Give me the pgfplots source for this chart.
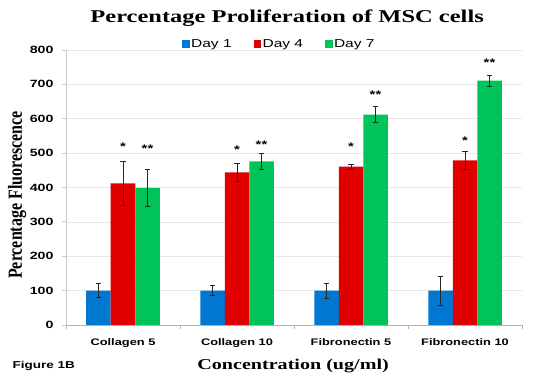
\documentclass[border=0pt]{standalone}
\usepackage{pgfplots}
\pgfplotsset{compat=1.18}
\usepackage{pgfplotstable}
\usepackage{fontspec}
\setmainfont{Liberation Sans}
\newfontfamily\sansw[FakeStretch=1.35]{Liberation Sans}
\newfontfamily\serifw[FakeStretch=1.36]{Liberation Serif}
\newfontfamily\serifx[FakeStretch=1.34]{Liberation Serif}
\definecolor{cblue}{RGB}{0,120,210}
\definecolor{cred}{RGB}{224,0,0}
\definecolor{cgreen}{RGB}{0,195,90}

\pgfplotstableread{
x y err
0 100 20
1 100 14
2 100 22
3 100 42
}\dayone
\pgfplotstableread{
x y err
0 412 63
1 444 27
2 461 7
3 479 26
}\dayfour
\pgfplotstableread{
x y err
0 399 53
1 476 23
2 612 24
3 711 16
}\dayseven
\pgfplotstableread{
x y lab
0 518 *
1 511 *
2 520 *
3 536 *
}\starsred
\pgfplotstableread{
x y lab
0.215 514 **
1.215 523 **
2.215 670 **
3.215 762 **
}\starsgreen

\begin{document}
\begin{tikzpicture}
\path[use as bounding box] (-66pt,-52pt) rectangle (475pt,325pt);
\begin{axis}[
  scale only axis, width=456pt, height=275pt,
  clip=false,
  xmin=-0.5, xmax=3.5, ymin=0, ymax=800,
  ytick={0,100,...,800},
  xtick={0,1,2,3},
  xticklabels={Collagen 5, Collagen 10, Fibronectin 5, Fibronectin 10},
  minor xtick={-0.5,0.5,1.5,2.5,3.5},
  major x tick style={draw=none},
  minor x tick style={gray!60, line width=0.8pt},
  minor tick length=4pt,
  major tick length=4pt,
  y tick style={gray!40, line width=0.8pt},
  tick align=outside,
  ymajorgrids,
  grid style={color=gray!18, line width=0.6pt},
  axis x line*=bottom, axis y line*=left,
  x axis line style={color=gray!60, line width=0.9pt},
  y axis line style={color=gray!40, line width=0.9pt},
  /pgf/number format/assume math mode=true,
  xticklabel style={font=\sansw\bfseries\fontsize{9.5}{10}\selectfont, yshift=-6.5pt},
  yticklabel style={font=\sansw\bfseries\fontsize{10.5}{11}\selectfont, xshift=-5pt},
  title={Percentage Proliferation of MSC cells},
  title style={font=\serifw\bfseries\fontsize{18}{20}\selectfont, at={(0.485,1.095)}, anchor=center},
  xlabel={Concentration (ug/ml)},
  xlabel style={font=\serifx\bfseries\fontsize{15}{16}\selectfont, at={(0.498,-0.15)}, anchor=center},
  ylabel={\scalebox{0.80}[1]{Percentage Fluorescence}},
  ylabel style={font=\rmfamily\fontspec{Liberation Serif}\bfseries\fontsize{20}{20}\selectfont, at={(-0.107,0.473)}, anchor=center},
  legend columns=3,
  legend style={draw=none, fill=none, at={(0.468,1.022)}, anchor=center,
    font=\sansw\fontsize{11.5}{12}\selectfont,
    /tikz/every even column/.append style={column sep=20pt},
    /tikz/every odd column/.append style={column sep=0pt}},
  nodes near coords style={font=\sansw\bfseries\fontsize{11}{11}\selectfont, anchor=center, text=black},
]
\addlegendimage{legend image code/.code={\fill[cblue] (0pt,-3pt) rectangle (6.5pt,3.5pt);}}
\addlegendentry{Day 1}
\addlegendimage{legend image code/.code={\fill[cred] (0pt,-3pt) rectangle (6.5pt,3.5pt);}}
\addlegendentry{Day 4}
\addlegendimage{legend image code/.code={\fill[cgreen] (0pt,-3pt) rectangle (6.5pt,3.5pt);}}
\addlegendentry{Day 7}

\addplot[ybar, bar width=24.5pt, bar shift=-24.5pt, fill=cblue, draw=none, forget plot]
  table[x=x, y=y] {\dayone};
\addplot[ybar, bar width=24.5pt, bar shift=0pt, fill=cred, draw=none, forget plot]
  table[x=x, y=y] {\dayfour};
\addplot[ybar, bar width=24.5pt, bar shift=24.5pt, fill=cgreen, draw=none, forget plot]
  table[x=x, y=y] {\dayseven};

% error bars, placed at the bar centres (24.5pt = 0.2149 category units)
\addplot[draw=none, mark=none, forget plot,
  error bars/.cd, y dir=both, y explicit,
  error bar style={black!85, line width=0.8pt},
  error mark options={black!85, rotate=90, mark size=2.8pt, line width=0.8pt}]
  table[x expr=\thisrow{x}-0.2149, y=y, y error=err] {\dayone};
\addplot[draw=none, mark=none, forget plot,
  error bars/.cd, y dir=both, y explicit,
  error bar style={black!85, line width=0.8pt},
  error mark options={black!85, rotate=90, mark size=2.8pt, line width=0.8pt}]
  table[x=x, y=y, y error=err] {\dayfour};
\addplot[draw=none, mark=none, forget plot,
  error bars/.cd, y dir=both, y explicit,
  error bar style={black!85, line width=0.8pt},
  error mark options={black!85, rotate=90, mark size=2.8pt, line width=0.8pt}]
  table[x expr=\thisrow{x}+0.2149, y=y, y error=err] {\dayseven};

\addplot[draw=none, mark=none, forget plot, nodes near coords, point meta=explicit symbolic]
  table[x=x, y=y, meta=lab] {\starsred};
\addplot[draw=none, mark=none, forget plot, nodes near coords, point meta=explicit symbolic]
  table[x=x, y=y, meta=lab] {\starsgreen};

\node[font=\sansw\bfseries\fontsize{10}{11}\selectfont, anchor=center] at (rel axis cs:-0.049,-0.148) {Figure 1B};
\end{axis}
\end{tikzpicture}
\end{document}
